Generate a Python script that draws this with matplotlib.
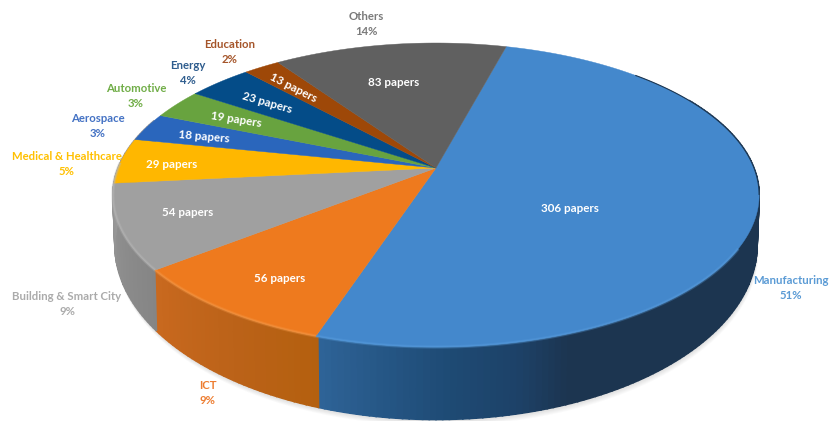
import matplotlib
matplotlib.use('Agg')
import matplotlib.pyplot as plt
from matplotlib.colors import to_rgb
import numpy as np

sectors = ['Manufacturing', 'ICT', 'Building & Smart City', 'Medical & Healthcare',
           'Aerospace', 'Automotive', 'Energy', 'Education', 'Others']
papers = [306, 56, 54, 29, 18, 19, 23, 13, 83]

top_colors = ['#4488CC', '#EE7A1E', '#A0A0A0', '#FFB700', '#2A66BC',
              '#68A33F', '#044C88', '#9E4808', '#606060']
label_colors = ['#5B9BD5', '#ED7D31', '#ABABAB', '#FFC000', '#4472C4',
                '#70AD47', '#2F5D8E', '#A5552A', '#7A7A7A']

# side wall shading, (angle clockwise from 12 o'clock, colour)
side_stops = [(15, '#1C3550'), (160, '#1C3550'), (168, '#1D4268'), (178, '#1E4A74'),
              (186, '#245482'), (198.3, '#2F6498'), (198.31, '#B4600F'), (212, '#BB6218'),
              (231.9, '#C9691F'), (231.91, '#858585'), (250, '#8E8E8E'), (275, '#9C9C9C'),
              (375, '#9C9C9C')]

# text centres in pixels: sector name + percent, then paper counts
name_xy = [(791, 288), (208, 393), (67, 304), (67, 164), (98, 126),
           (136, 96), (188, 73), (230, 52), (366, 24)]
count_xy = [(570, 208), (280, 278), (188, 213), (172, 164), (204, 137),
            (236, 120), (267, 103), (293, 88), (394, 82)]
count_rot = [0, 0, 0, 0, -5, -9, -16, -27, 0]

start_angle = 15
cx = 436
persp = 0.1776


def disc(theta, hub_y, a, b):
    # points on a disc seen in perspective, theta clockwise from the top in degrees
    t = np.radians(theta)
    w = 1 + persp * np.cos(t)
    return cx + b * np.sin(t) / w, hub_y - a * np.cos(t) / w


def top_disc(theta):
    return disc(theta, 168, 147.2, 318)


def bottom_disc(theta):
    return disc(theta, 214, 169, 316)


def side_color(theta):
    angles = [s[0] for s in side_stops]
    rgb = np.array([to_rgb(s[1]) for s in side_stops])
    return [np.interp(theta, angles, rgb[:, i]) for i in range(3)]


fig = plt.figure(figsize=(8.31, 4.21), dpi=100)
ax = fig.add_axes([0, 0, 1, 1])
ax.set_xlim(0, 831)
ax.set_ylim(421, 0)
ax.axis('off')

total = sum(papers)
edges = start_angle + np.cumsum([0] + papers) / total * 360

# soft shadow below the pie
all_theta = np.linspace(0, 360, 361)
bx, by = bottom_disc(all_theta)
for i in range(1, 8):
    ax.fill(bx + 0.2 * i, by + i * 0.9, color='#777777', alpha=0.035, lw=0)

# side wall, back to front
for a0 in np.arange(60, 290, 1.0):
    th = np.array([a0, a0 + 1.0])
    x1, y1 = top_disc(th)
    x2, y2 = bottom_disc(th)
    c = side_color(a0 + 0.5)
    ax.fill([x1[0], x1[1], x2[1], x2[0]], [y1[0], y1[1], y2[1], y2[0]], color=c, lw=1.2)

# top face
for i in range(len(papers)):
    th = np.linspace(edges[i], edges[i + 1], 150)
    x, y = top_disc(th)
    ax.fill(np.r_[cx, x], np.r_[168, y], color=top_colors[i], lw=0.3)

# lighter bevel along the front rim
rim_parts = [(120, 198.3, '#5A9FE0'), (198.3, 231.9, '#F59A4A'), (231.9, 272, '#B8B8B8')]
for a0, a1, c in rim_parts:
    x, y = top_disc(np.linspace(a0, a1, 80))
    ax.plot(x, y, color=c, lw=2.4, alpha=0.3, solid_capstyle='butt')
    ax.plot(x, y, color=c, lw=1.0, alpha=0.5, solid_capstyle='butt')
x, y = top_disc(np.linspace(45, 100, 80))
ax.plot(x, y, color='#1D3650', lw=0.8)

for i in range(len(papers)):
    pct = round(papers[i] / total * 100)
    ax.text(name_xy[i][0], name_xy[i][1], sectors[i] + '\n' + str(pct) + '%', color=label_colors[i],
            family='Lato', weight='bold', fontsize=8.2, ha='center', va='center', linespacing=1.5)
    ax.text(count_xy[i][0], count_xy[i][1], str(papers[i]) + ' papers', color='white',
            family='Lato', weight='bold', fontsize=8.4, ha='center', va='center',
            rotation=count_rot[i], rotation_mode='anchor')

fig.savefig('out.png', dpi=100)
